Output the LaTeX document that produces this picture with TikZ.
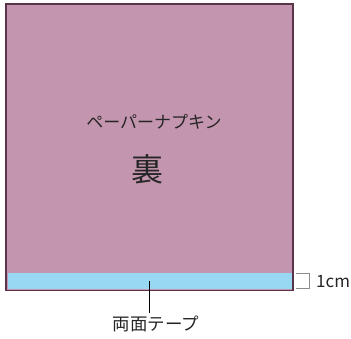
\documentclass[tikz,border=0pt]{standalone}
\usepackage{fontspec}
\setmainfont{Noto Sans CJK JP}
\definecolor{napkin}{HTML}{C495AE}
\definecolor{tape}{HTML}{98D8F2}
\definecolor{edge}{HTML}{5A3549}
\definecolor{brk}{HTML}{8C8C8C}
\begin{document}
\begin{tikzpicture}[x=1pt,y=-1pt,
  lbl/.style={inner sep=0pt,text=black!85}]
\useasboundingbox (0,0) rectangle (351,338);
\fill[napkin] (6,4) rectangle (293,290.5);
\fill[tape] (7.5,273) rectangle (291.5,289);
\draw[edge,line width=1.3pt] (6,4) rectangle (293,290.5);
\node[lbl,font=\fontsize{17}{20}\selectfont] (title) at (154,122) {ペーパーナプキン};
\node[lbl,font=\fontsize{32}{36}\selectfont] (back) at (147.5,169) {裏};
\coordinate (tapemid) at (149,281);
\node[lbl,font=\fontsize{17.5}{20}\selectfont] (tapelbl) at (156,324) {両面テープ};
\draw[black,line width=0.9pt] (tapemid) -- (tapemid |- 0,313);
\coordinate (b1) at (296,273.5);
\coordinate (b2) at (309,288.5);
\draw[brk,line width=1pt] (b1) -- (b1 -| b2) -- (b2) -- (b2 -| b1);
\node[lbl,anchor=west,font=\fontsize{17}{20}\selectfont] (cm) at (316,282) {1cm};
\end{tikzpicture}
\end{document}
